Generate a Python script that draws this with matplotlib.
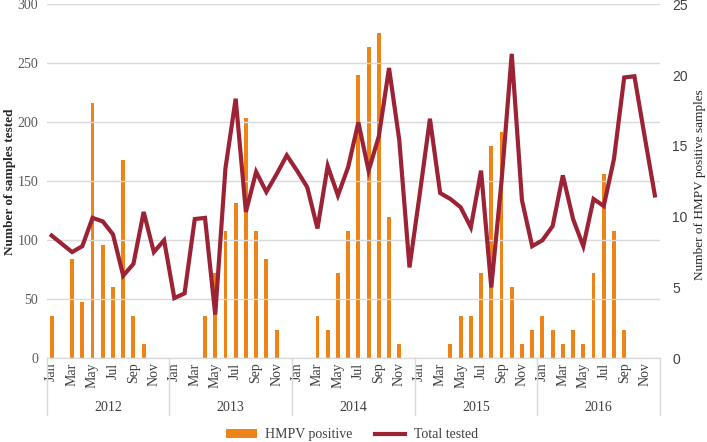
import matplotlib
matplotlib.use("Agg")
import matplotlib.pyplot as plt
import matplotlib.transforms as mtransforms
from matplotlib.patches import Patch
from matplotlib.lines import Line2D

years = ["2012", "2013", "2014", "2015", "2016"]
months = ["Jan", "Feb", "Mar", "Apr", "May", "Jun", "Jul", "Aug", "Sep", "Oct", "Nov", "Dec"]

hmpv_positive = [
    3, 0, 7, 4, 18, 8, 5, 14, 3, 1, 0, 0,
    0, 0, 0, 3, 6, 9, 11, 17, 9, 7, 2, 0,
    0, 0, 3, 2, 6, 9, 20, 22, 23, 10, 1, 0,
    0, 0, 0, 1, 3, 3, 6, 15, 16, 5, 1, 2,
    3, 2, 1, 2, 1, 6, 13, 9, 2, 0, 0, 0,
]

total_tested = [
    104, 97, 90, 95, 119, 116, 105, 70, 80, 124, 90, 100,
    51, 55, 118, 119, 37, 161, 220, 124, 158, 141, 156, 172,
    159, 145, 110, 163, 138, 162, 200, 159, 188, 246, 185, 77,
    139, 203, 140, 135, 128, 111, 159, 60, 150, 258, 134, 95,
    100, 112, 155, 118, 95, 135, 129, 169, 238, 239, 188, 138,
]

serif = "Liberation Serif"
sans = "Liberation Sans"
bar_color = "#EE8417"
line_color = "#9B2335"
grid_color = "#D9D9D9"
text_color = "#404040"

fig = plt.figure(figsize=(7.07, 4.42), dpi=100)
ax = fig.add_axes([0.0658, 0.1894, 0.8677, 0.8009])
ax2 = ax.twinx()

n = len(total_tested)
x = list(range(n))

ax2.bar(x, hmpv_positive, width=0.38, color=bar_color, zorder=2)
ax.plot(x, total_tested, color=line_color, linewidth=3.0, solid_joinstyle="miter", zorder=3)

ax.set_zorder(ax2.get_zorder() + 1)
ax.patch.set_visible(False)

ax.set_xlim(-0.5, n - 0.5)
ax.set_ylim(0, 300)
ax2.set_ylim(0, 25)
ax.set_yticks([0, 50, 100, 150, 200, 250, 300])
ax2.set_yticks([0, 5, 10, 15, 20, 25])

ax.grid(axis="y", color=grid_color, linewidth=1.0, zorder=0)
ax.set_axisbelow(True)

for a in (ax, ax2):
    for s in ("top", "left", "right"):
        a.spines[s].set_visible(False)
    a.spines["bottom"].set_color(grid_color)
    a.tick_params(axis="y", length=0)

ax.tick_params(axis="y", labelsize=10, labelcolor="#595959", pad=6)
for lab in ax.get_yticklabels():
    lab.set_fontfamily(serif)
ax2.tick_params(axis="y", labelsize=10, labelcolor="#404040", pad=9)
for lab in ax2.get_yticklabels():
    lab.set_fontfamily(sans)

month_labels = []
for y in years:
    for i, m in enumerate(months):
        month_labels.append(m if i % 2 == 0 else "")
ax.set_xticks(x)
ax.set_xticklabels(month_labels, rotation=90, fontfamily=serif, fontsize=10, color=text_color)
ax.tick_params(axis="x", length=0, pad=3)
ax2.tick_params(axis="x", length=0)

trans = mtransforms.blended_transform_factory(ax.transData, ax.transAxes)
for k in range(len(years) + 1):
    xs = k * 12 - 0.5
    ax.plot([xs, xs], [0, -0.16], transform=trans, color=grid_color, linewidth=1.0, clip_on=False)
for k, y in enumerate(years):
    ax.text(k * 12 + 5.5, -0.14, y, transform=trans, ha="center", va="center",
            fontfamily=serif, fontsize=10, color=text_color)

ax.set_ylabel("Number of samples tested", fontfamily=serif, fontsize=9.5, fontweight="bold",
              color="#262626")
ax.yaxis.set_label_coords(-0.05, 0.5)
ax2.set_ylabel("Number of HMPV positive samples", fontfamily=serif, fontsize=9.5, color="#262626")
ax2.yaxis.set_label_coords(1.056, 0.49)

handles = [Patch(facecolor=bar_color, edgecolor="none"),
           Line2D([0], [0], color=line_color, linewidth=3.0)]
leg = fig.legend(handles, ["HMPV positive", "Total tested"], loc="center",
                 bbox_to_anchor=(0.498, 0.016), ncol=2, frameon=False,
                 prop={"family": serif, "size": 10}, handlelength=2.2, handleheight=0.55,
                 columnspacing=1.6, handletextpad=0.6)
for t in leg.get_texts():
    t.set_color(text_color)

fig.savefig("out.png", dpi=100)
